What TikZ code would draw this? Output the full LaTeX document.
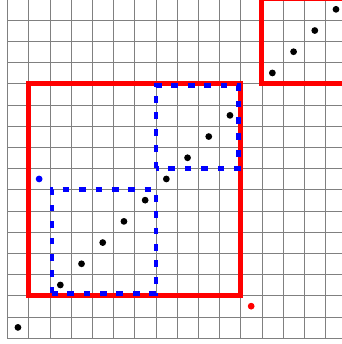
\documentclass[tikz,border=0pt]{standalone}
\begin{document}
\begin{tikzpicture}[x=1cm,y=1cm,
  gridline/.style={draw=black!50,line width=0.6pt},
  redsq/.style={draw=red,line width=7pt},
  bluesq/.style={draw=blue,line width=6pt,dash pattern=on 9pt off 13pt},
  dot/.style={fill=#1},
  dot/.default=black]
\useasboundingbox (-0.345,-0.283) rectangle (15.78,15.94);
\clip (-0.345,-0.283) rectangle (15.78,15.94);
\draw[gridline] (0,0) grid (16,16);
% red squares
\draw[redsq] (1,2) rectangle (11,12);
\draw[redsq] (12,12) rectangle (16,16);
% blue dashed squares
\draw[bluesq] (2.1,2.1) rectangle (7,7);
\draw[bluesq] (7,8) rectangle (10.9,11.9);
% dots
\foreach \p in {0.5,2.5,3.5,4.5,5.5,6.5,7.5,8.5,9.5,10.5,12.5,13.5,14.5,15.5}
  \fill[dot] (\p,\p) circle (0.16);
\fill[dot=blue] (1.5,7.5) circle (0.16);
\fill[dot=red] (11.5,1.5) circle (0.16);
\end{tikzpicture}
\end{document}
